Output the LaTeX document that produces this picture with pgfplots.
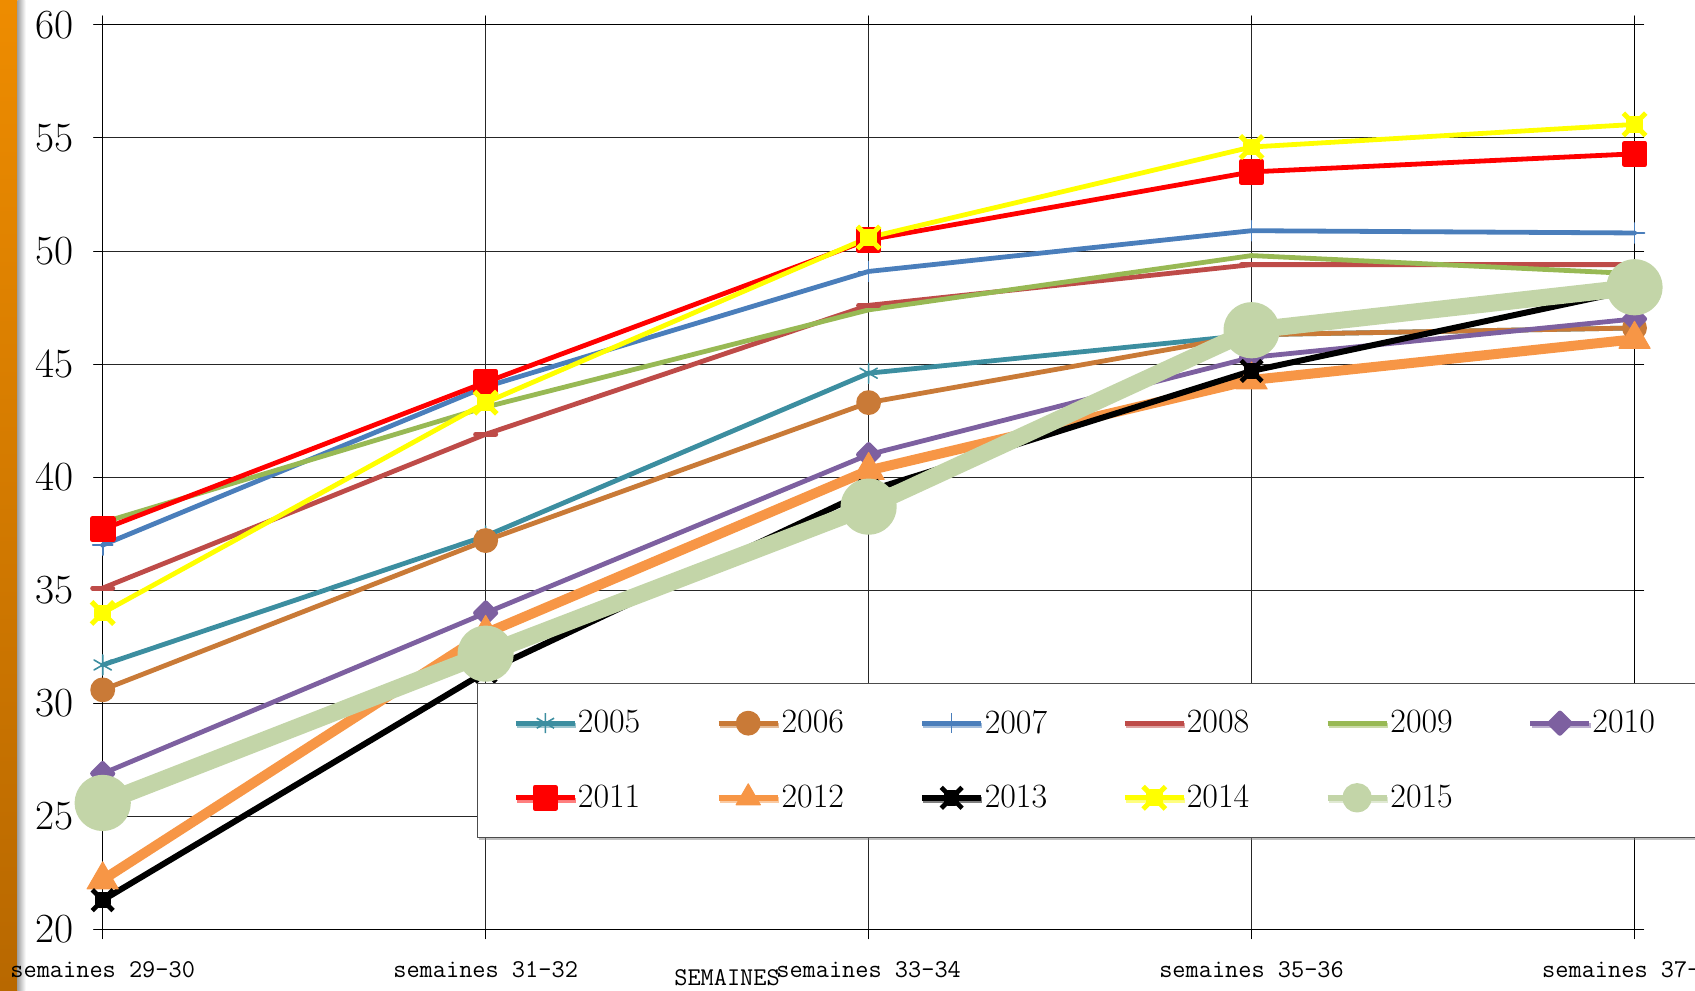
\documentclass[border=0pt]{standalone}
\usepackage{pgfplots}
\pgfplotsset{compat=1.18}
\usetikzlibrary{shadows}
\definecolor{c2005}{HTML}{3C8EA0}
\definecolor{c2006}{HTML}{C97A37}
\definecolor{c2007}{HTML}{4A7EBB}
\definecolor{c2008}{HTML}{BE4B48}
\definecolor{c2009}{HTML}{98B954}
\definecolor{c2010}{HTML}{7D60A0}
\definecolor{c2011}{HTML}{FF0000}
\definecolor{c2012}{HTML}{F79646}
\definecolor{c2013}{HTML}{000000}
\definecolor{c2014}{HTML}{FFFF00}
\definecolor{c2015}{HTML}{C3D5A8}
\definecolor{barA}{HTML}{EE8C00}
\definecolor{barB}{HTML}{B86800}
\pgfdeclareplotmark{xblob}{%
  \pgfsetlinewidth{0.8\pgfplotmarksize}%
  \pgfsetrectcap
  \pgfpathrectangle{\pgfqpoint{-0.35\pgfplotmarksize}{-0.35\pgfplotmarksize}}{\pgfqpoint{0.7\pgfplotmarksize}{0.7\pgfplotmarksize}}%
  \pgfusepathqstroke
  \pgfsetlinewidth{0.45\pgfplotmarksize}%
  \pgfsetbuttcap
  \pgfpathmoveto{\pgfqpoint{-\pgfplotmarksize}{-\pgfplotmarksize}}\pgfpathlineto{\pgfqpoint{\pgfplotmarksize}{\pgfplotmarksize}}%
  \pgfpathmoveto{\pgfqpoint{-\pgfplotmarksize}{\pgfplotmarksize}}\pgfpathlineto{\pgfqpoint{\pgfplotmarksize}{-\pgfplotmarksize}}%
  \pgfusepathqstroke
}
\begin{document}
\begin{tikzpicture}
\shade[top color=barA, bottom color=barB] (-51.35pt,-30.2pt) rectangle (-42.5pt,464.8pt);
\shade[left color=black!35, right color=white] (-42.5pt,-30.2pt) rectangle (-38.5pt,464.8pt);
\begin{axis}[
  at={(0pt,0pt)}, anchor=south west,
  scale only axis,
  width=765.9pt, height=452.35pt,
  xmin=0, xmax=4, ymin=20, ymax=60,
  xtick={0,1,2,3,4},
  xticklabels={semaines 29-30,semaines 31-32,semaines 33-34,semaines 35-36,semaines 37-38},
  ytick={20,25,30,35,40,45,50,55,60},
  grid=major,
  major grid style={black!85, line width=0.5pt},
  axis line style={black, line width=0.6pt},
  tick align=outside,
  major tick length=4.5pt,
  tick style={black, line width=0.5pt},
  xticklabel style={font=\ttfamily\fontsize{12.8}{14}\selectfont, yshift=-7.8pt},
  yticklabel style={font=\fontsize{20}{23}\selectfont, xshift=-6.7pt},
  clip=false,
  line join=round, line cap=round,
  legend columns=6,
  legend cell align=left,
  legend image code/.code={\draw[mark repeat=2,mark phase=2] plot coordinates {(0pt,0pt)(14.75pt,0pt)(29.5pt,0pt)};},
  legend style={
    at={(rel axis cs:0.2443,0.2726)}, anchor=north west,
    draw=black!70, fill=white, line width=0.6pt,
    drop shadow={shadow xshift=0.6pt, shadow yshift=-1.2pt, fill=black!50},
    inner xsep=18pt, inner ysep=13pt,
    font=\fontsize{17}{19}\selectfont,
    row sep=23.5pt,
    nodes={inner sep=0.3pt},
    /tikz/every odd column/.append style={column sep=0pt},
    /tikz/every even column/.append style={column sep=37.3pt},
  },
]
\addplot[c2005, line width=2.4pt, mark=asterisk, mark size=5pt, mark options={line width=0.8pt}]
  coordinates {(0,31.7)(1,37.4)(2,44.6)(3,46.3)(4,46.6)};
\addlegendentry{2005}
\addplot[c2006, line width=2.4pt, mark=*, mark size=5pt]
  coordinates {(0,30.6)(1,37.2)(2,43.3)(3,46.3)(4,46.6)};
\addlegendentry{2006}
\addplot[c2007, line width=2.4pt, mark=+, mark size=5pt, mark options={line width=0.8pt}]
  coordinates {(0,37.0)(1,44.0)(2,49.1)(3,50.9)(4,50.8)};
\addlegendentry{2007}
\addplot[c2008, line width=2.4pt, mark=-, mark size=5pt, mark options={line width=2.5pt}]
  coordinates {(0,35.1)(1,41.9)(2,47.6)(3,49.4)(4,49.4)};
\addlegendentry{2008}
\addplot[c2009, line width=2.4pt, mark=none]
  coordinates {(0,38.0)(1,43.1)(2,47.4)(3,49.8)(4,49.0)};
\addlegendentry{2009}
\addplot[c2010, line width=2.4pt, mark=square*, mark size=3.6pt, mark options={rotate=45}]
  coordinates {(0,26.9)(1,34.0)(2,41.0)(3,45.3)(4,47.0)};
\addlegendentry{\makebox[75pt][l]{2010}}
\addplot[c2011, line width=2.4pt, mark=square*, mark size=5.2pt]
  coordinates {(0,37.7)(1,44.2)(2,50.5)(3,53.5)(4,54.3)};
\addlegendentry{2011}
\addplot[c2012, line width=5pt, mark=triangle*, mark size=9pt, mark options={line width=0.5pt},
  legend image post style={mark size=7pt, line width=3.2pt}]
  coordinates {(0,22.2)(1,33.1)(2,40.3)(3,44.3)(4,46.1)};
\addlegendentry{2012}
\addplot[c2013, line width=3pt, mark=xblob, mark size=5.2pt]
  coordinates {(0,21.3)(1,31.4)(2,39.4)(3,44.7)(4,48.3)};
\addlegendentry{2013}
\addplot[c2014, line width=2.4pt, mark=xblob, mark size=5.6pt]
  coordinates {(0,34.0)(1,43.3)(2,50.6)(3,54.6)(4,55.6)};
\addlegendentry{2014}
\addplot[c2015, line width=8.5pt, mark=*, mark size=9.8pt,
  legend image post style={mark size=5.75pt, line width=3.2pt}]
  coordinates {(0,25.6)(1,32.2)(2,38.7)(3,46.5)(4,48.4)};
\addlegendentry{2015}
\node[font=\ttfamily\fontsize{12.8}{14}\selectfont, anchor=center] at ([yshift=-24.2pt]rel axis cs:0.4076,0) {SEMAINES};
\end{axis}
\pgfresetboundingbox
\path[use as bounding box] (-51.35pt,-30.2pt) rectangle (796.15pt,464.8pt);
\end{tikzpicture}
\end{document}
